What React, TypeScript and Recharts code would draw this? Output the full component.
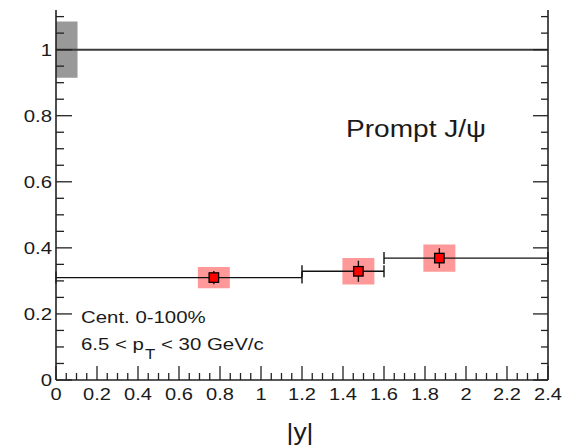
import React from "react";
import {
  ComposedChart,
  Scatter,
  XAxis,
  YAxis,
  ErrorBar,
  ReferenceArea,
  ReferenceLine,
} from "recharts";

// ---- data ----
const binLow = [0, 1.2, 1.6];
const binHigh = [1.2, 1.6, 2.4];
const binCenter = [0.77, 1.475, 1.87];
const ratio = [0.31, 0.329, 0.369];
const statErr = [0.02, 0.032, 0.03];
const sysErr = [0.032, 0.04, 0.041];
const sysHalfWidth = 0.078;
const globalUncLow = 0.915;
const globalUncHigh = 1.085;
const globalUncX = [0, 0.105];
const refValue = 1;

const xMajorTicks = [0, 0.2, 0.4, 0.6, 0.8, 1, 1.2, 1.4, 1.6, 1.8, 2, 2.2, 2.4];
const yMajorTicks = [0, 0.2, 0.4, 0.6, 0.8, 1];
const xTickLabels = ["0", "0.2", "0.4", "0.6", "0.8", "1", "1.2", "1.4", "1.6", "1.8", "2", "2.2", "2.4"];
const yTickLabels = ["0", "0.2", "0.4", "0.6", "0.8", "1"];

const xMinorTicks = Array.from({ length: 49 }, (_, i) => +(i * 0.05).toFixed(2));
const yMinorTicks = Array.from({ length: 23 }, (_, i) => +(i * 0.05).toFixed(2));

const data = binCenter.map((c, i) => ({
  x: c,
  y: ratio[i],
  xerr: [c - binLow[i], binHigh[i] - c],
  yerr: statErr[i],
}));

const W = 564;
const H = 447;
const FONT = "'Liberation Sans', Arial, sans-serif";
const TXT = "#1a1a1a";

const majorIndex = (v: number, list: number[]) =>
  list.findIndex((m) => Math.abs(m - v) < 1e-6);

const XTick = (props: any) => {
  const { x, y, payload } = props;
  const idx = majorIndex(payload.value, xMajorTicks);
  const major = idx >= 0;
  return (
    <g>
      <line x1={x} x2={x} y1={y} y2={y - (major ? 14 : 7)} stroke="#222" strokeWidth={1.3} />
      {major && (
        <text
          x={0}
          y={0}
          transform={`translate(${x},${y + 20}) scale(1.18,1)`}
          textAnchor="middle"
          fontFamily={FONT}
          fontSize={17}
          fill={TXT}
        >
          {xTickLabels[idx]}
        </text>
      )}
    </g>
  );
};

const YTickLeft = (props: any) => {
  const { x, y, payload } = props;
  const idx = majorIndex(payload.value, yMajorTicks);
  const major = idx >= 0;
  return (
    <g>
      <line x1={x} x2={x + (major ? 16 : 8)} y1={y} y2={y} stroke="#222" strokeWidth={1.3} />
      {major && (
        <text
          x={0}
          y={0}
          transform={`translate(${x - 4},${y + 6}) scale(1.2,1)`}
          textAnchor="end"
          fontFamily={FONT}
          fontSize={17}
          fill={TXT}
        >
          {yTickLabels[idx]}
        </text>
      )}
    </g>
  );
};

const YTickRight = (props: any) => {
  const { x, y, payload } = props;
  const major = majorIndex(payload.value, yMajorTicks) >= 0;
  return <line x1={x} x2={x - (major ? 15 : 7)} y1={y} y2={y} stroke="#222" strokeWidth={1.3} />;
};

const Marker = (props: any) => {
  const { cx, cy } = props;
  const s = 9.5;
  return <rect x={cx - s / 2} y={cy - s / 2} width={s} height={s} fill="#ff0000" stroke="#000" strokeWidth={1.3} />;
};

export default function App() {
  return (
    <div style={{ position: "absolute", left: 0, top: 0, width: W, height: H, background: "#fff" }}>
      <ComposedChart
        width={W}
        height={H}
        data={data}
        margin={{ top: 10, right: 15, bottom: 66, left: 55 }}
      >
        <XAxis
          type="number"
          dataKey="x"
          domain={[0, 2.4]}
          ticks={xMinorTicks}
          interval={0}
          allowDataOverflow
          height={1}
          tickSize={0}
          tickMargin={0}
          tickLine={false}
          tick={<XTick />}
          axisLine={{ stroke: "#222", strokeWidth: 1.6 }}
        />
        <YAxis
          yAxisId="l"
          type="number"
          domain={[0, 1.12]}
          ticks={yMinorTicks}
          interval={0}
          allowDataOverflow
          width={1}
          tickSize={0}
          tickMargin={0}
          tickLine={false}
          tick={<YTickLeft />}
          axisLine={{ stroke: "#222", strokeWidth: 1.6 }}
        />
        <YAxis
          yAxisId="r"
          orientation="right"
          type="number"
          domain={[0, 1.12]}
          ticks={yMinorTicks}
          interval={0}
          allowDataOverflow
          width={1}
          tickSize={0}
          tickMargin={0}
          tickLine={false}
          tick={<YTickRight />}
          axisLine={{ stroke: "#222", strokeWidth: 1.6 }}
        />
        <ReferenceArea
          yAxisId="l"
          x1={globalUncX[0]}
          x2={globalUncX[1]}
          y1={globalUncLow}
          y2={globalUncHigh}
          fill="#999999"
          fillOpacity={1}
          stroke="none"
          ifOverflow="visible"
        />
        {binCenter.map((c, i) => (
          <ReferenceArea
            key={i}
            yAxisId="l"
            x1={c - sysHalfWidth}
            x2={c + sysHalfWidth}
            y1={ratio[i] - sysErr[i]}
            y2={ratio[i] + sysErr[i]}
            fill="#ff9999"
            fillOpacity={1}
            stroke="none"
          />
        ))}
        <ReferenceLine yAxisId="l" y={refValue} stroke="#3a3a3a" strokeWidth={2} />
        <Scatter yAxisId="l" dataKey="y" isAnimationActive={false} shape={<Marker />}>
          <ErrorBar dataKey="xerr" direction="x" width={6} stroke="#111" strokeWidth={1.4} />
          <ErrorBar dataKey="yerr" direction="y" width={0} stroke="#111" strokeWidth={1.4} />
        </Scatter>
      </ComposedChart>
      <svg
        width={W}
        height={H}
        style={{ position: "absolute", left: 0, top: 0, pointerEvents: "none" }}
      >
        <text
          transform="translate(346,137) scale(1.17,1)"
          fontFamily={FONT}
          fontSize={24}
          fill={TXT}
        >
          Prompt J/ψ
        </text>
        <text transform="translate(81,323) scale(1.2,1)" fontFamily={FONT} fontSize={17} fill={TXT}>
          Cent. 0-100%
        </text>
        <text transform="translate(81,350) scale(1.2,1)" fontFamily={FONT} fontSize={17} fill={TXT}>
          6.5 &lt; p
          <tspan dx={1} dy={9} fontSize={14}>T</tspan>
          <tspan dy={-9}> &lt; 30 GeV/c</tspan>
        </text>
        <text transform="translate(300,440) scale(1.15,1)" textAnchor="middle" fontFamily={FONT} fontSize={23} fill={TXT}>
          |y|
        </text>
      </svg>
    </div>
  );
}
